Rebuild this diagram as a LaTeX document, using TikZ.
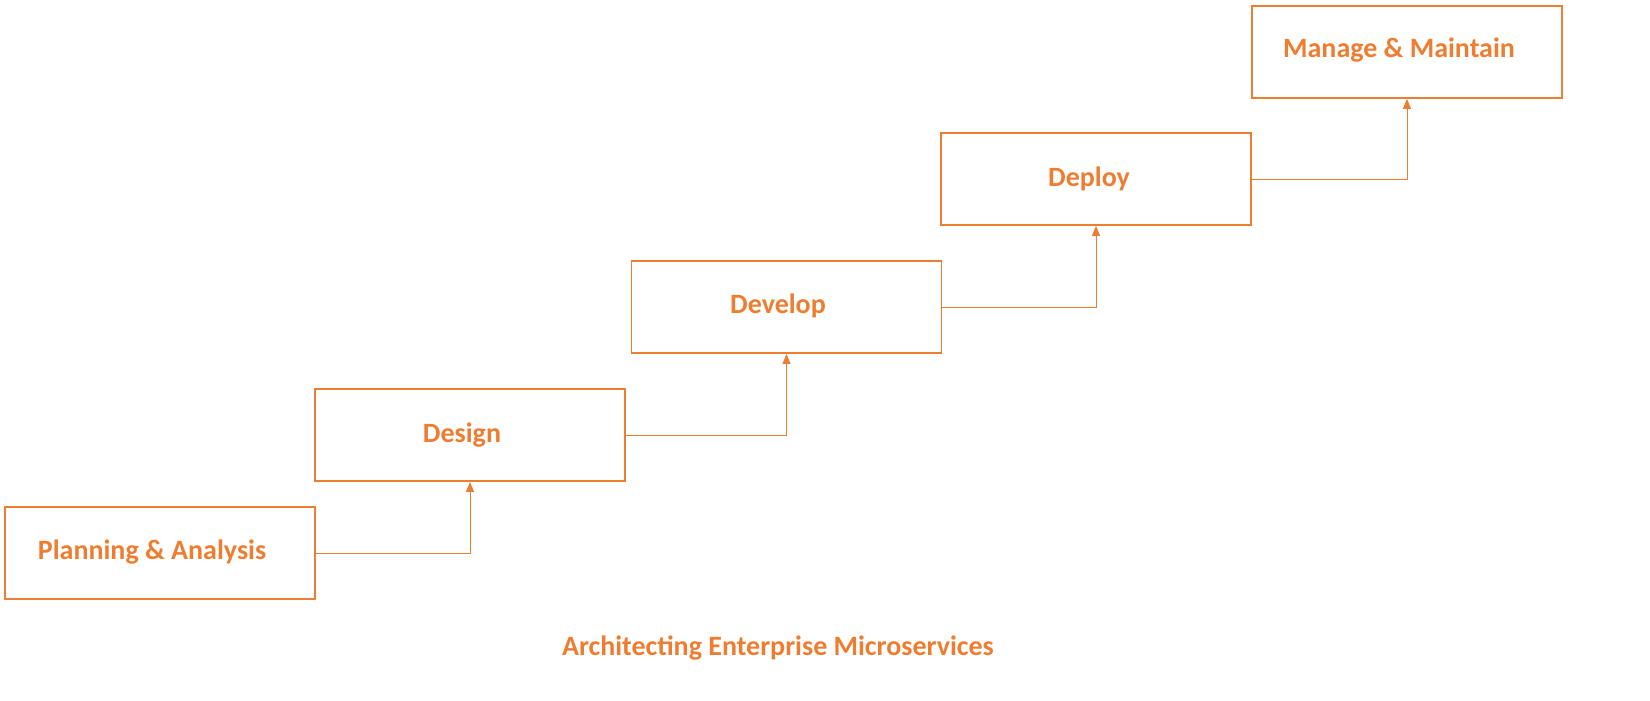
\documentclass[tikz,border=0pt]{standalone}
\usepackage{fontspec}
\setmainfont{Carlito}
\usetikzlibrary{arrows.meta}
\definecolor{org}{HTML}{ED7D31}
\begin{document}
\begin{tikzpicture}[x=1pt,y=-1pt,
  stage/.style={draw=org,line width=1.8pt,minimum width=310pt,minimum height=92pt,inner sep=0pt},
  lbl/.style={text=org,font=\bfseries\fontsize{28}{32}\selectfont,inner sep=0pt,anchor=center},
  conn/.style={draw=org,line width=0.9pt,-{Triangle[length=10pt,width=8pt]}}]
\useasboundingbox (0,0) rectangle (1650,701);
\node[stage] (p) at (160,553) {};
\node[stage] (d) at (470,435) {};
\node[stage] (v) at (786.5,307) {};
\node[stage] (y) at (1096,179) {};
\node[stage] (m) at (1407,52) {};
\node[lbl] (pt) at (152,552) {Planning \& Analysis};
\node[lbl] (dt) at (462,435) {Design};
\node[lbl] (vt) at (778,306) {Develop};
\node[lbl] (yt) at (1089,179) {Deploy};
\node[lbl] (mt) at (1399,50) {Manage \& Maintain};
\node[lbl] (title) at (778,648) {Architecting Enterprise Microservices};
\draw[conn] (p.east) -| (d.south);
\draw[conn] (d.east) -| (v.south);
\draw[conn] (v.east) -| (y.south);
\draw[conn] (y.east) -| (m.south);
\end{tikzpicture}
\end{document}
